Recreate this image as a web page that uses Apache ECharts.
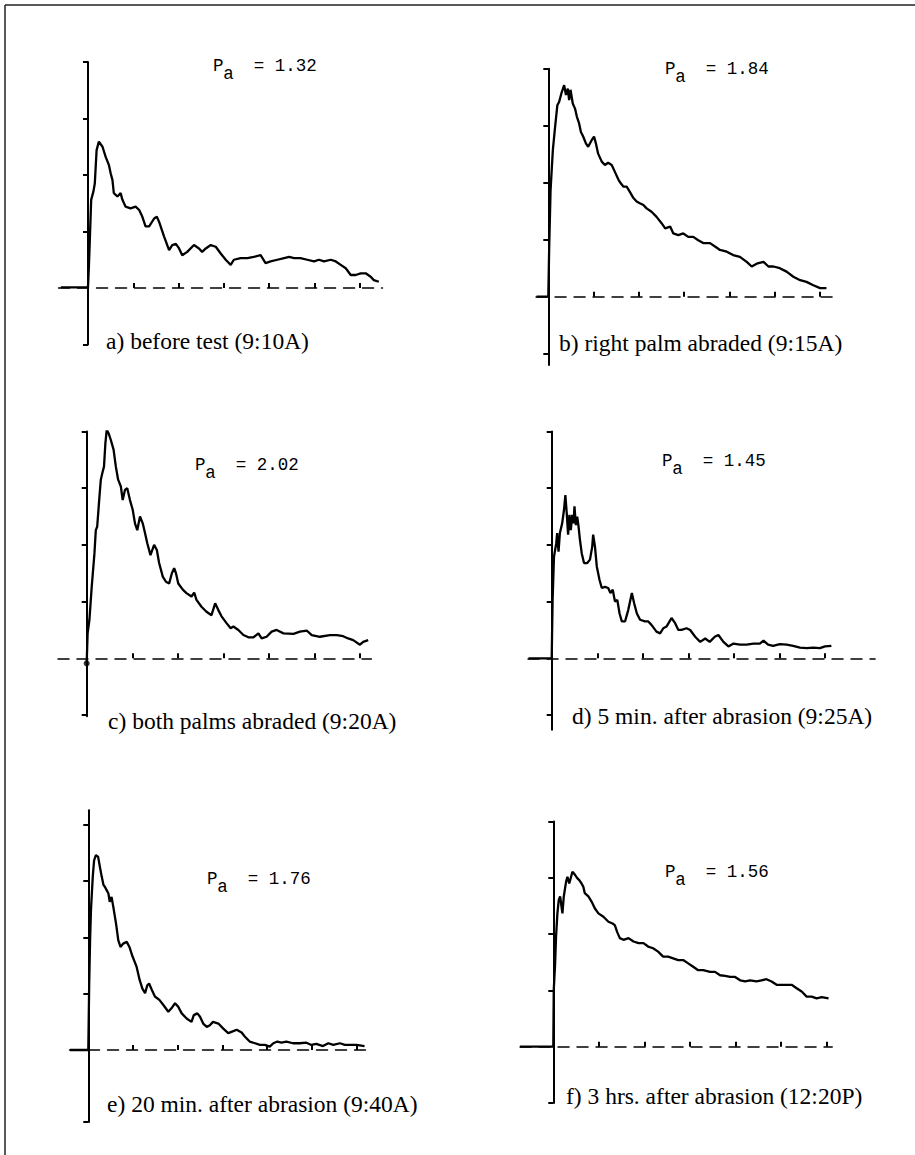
<!DOCTYPE html>
<html>
<head>
<meta charset="utf-8">
<title>Pa traces</title>
<script src="https://cdn.jsdelivr.net/npm/echarts@6/dist/echarts.min.js"></script>
<style>
  html, body { margin: 0; padding: 0; background: #fff; }
  #chart { width: 915px; height: 1155px; }
</style>
</head>
<body>
<div id="chart"></div>
<script>
// traces: x in tick units from the vertical axis, y in tick units above the dashed baseline
const traceA = [[-0.60,0.01],[-0.03,0.01],[0,0.02],[0.02,0.38],[0.04,0.85],[0.07,1.56],[0.12,1.71],[0.15,1.85],[0.19,2.44],[0.24,2.59],[0.32,2.50],[0.39,2.32],[0.46,2.18],[0.50,2.03],[0.54,1.91],[0.57,1.68],[0.65,1.62],[0.72,1.68],[0.76,1.56],[0.83,1.44],[0.94,1.41],[1.05,1.44],[1.13,1.38],[1.20,1.26],[1.27,1.09],[1.35,1.09],[1.46,1.23],[1.52,1.26],[1.57,1.17],[1.68,0.91],[1.79,0.67],[1.86,0.76],[1.94,0.78],[2.01,0.70],[2.08,0.58],[2.19,0.64],[2.34,0.76],[2.45,0.70],[2.52,0.64],[2.60,0.70],[2.71,0.76],[2.82,0.73],[2.93,0.61],[3.04,0.50],[3.15,0.41],[3.22,0.50],[3.37,0.53],[3.52,0.53],[3.66,0.55],[3.81,0.58],[3.92,0.44],[4.03,0.47],[4.18,0.50],[4.33,0.53],[4.44,0.55],[4.55,0.53],[4.69,0.53],[4.84,0.50],[4.99,0.47],[5.10,0.50],[5.21,0.47],[5.36,0.50],[5.47,0.47],[5.58,0.41],[5.69,0.35],[5.80,0.23],[5.91,0.23],[6.02,0.26],[6.13,0.26],[6.24,0.20],[6.31,0.14],[6.42,0.11]]
const traceB = [[-0.26,0],[0,0],[0.02,0.88],[0.05,1.87],[0.10,2.57],[0.15,2.98],[0.20,3.36],[0.24,3.42],[0.29,3.57],[0.35,3.71],[0.39,3.54],[0.43,3.65],[0.46,3.45],[0.49,3.63],[0.54,3.39],[0.59,3.30],[0.63,3.16],[0.68,3.04],[0.72,2.89],[0.77,2.81],[0.83,2.69],[0.88,2.63],[0.96,2.75],[1.01,2.81],[1.05,2.69],[1.10,2.51],[1.18,2.37],[1.25,2.31],[1.32,2.35],[1.40,2.31],[1.47,2.19],[1.55,2.05],[1.60,1.99],[1.66,1.93],[1.73,1.93],[1.80,1.84],[1.88,1.73],[1.95,1.67],[2.02,1.64],[2.10,1.61],[2.17,1.55],[2.28,1.49],[2.39,1.40],[2.50,1.29],[2.58,1.20],[2.69,1.23],[2.76,1.11],[2.87,1.08],[2.98,1.11],[3.09,1.05],[3.20,1.05],[3.31,0.99],[3.42,0.94],[3.57,0.94],[3.68,0.88],[3.79,0.82],[3.94,0.79],[4.08,0.73],[4.23,0.70],[4.38,0.61],[4.49,0.53],[4.60,0.58],[4.75,0.61],[4.86,0.53],[4.97,0.53],[5.11,0.50],[5.26,0.44],[5.41,0.35],[5.56,0.29],[5.70,0.26],[5.85,0.20],[6.00,0.15],[6.14,0.15]]
const traceC = [[0,-0.09],[0.02,0.44],[0.06,0.68],[0.11,1.26],[0.17,1.85],[0.20,2.26],[0.23,2.32],[0.28,2.85],[0.31,3.15],[0.35,3.29],[0.38,3.38],[0.41,3.79],[0.44,4.03],[0.48,3.97],[0.53,3.85],[0.59,3.68],[0.64,3.38],[0.69,3.15],[0.75,3.03],[0.79,2.79],[0.84,2.97],[0.89,3.00],[0.95,2.79],[1.01,2.62],[1.06,2.38],[1.11,2.26],[1.17,2.50],[1.23,2.38],[1.28,2.21],[1.33,2.03],[1.40,1.82],[1.48,2.00],[1.54,1.91],[1.59,1.68],[1.67,1.44],[1.74,1.35],[1.81,1.32],[1.87,1.50],[1.92,1.59],[1.96,1.50],[2.01,1.32],[2.11,1.21],[2.19,1.15],[2.30,1.09],[2.36,1.16],[2.41,1.03],[2.52,0.91],[2.63,0.82],[2.74,0.76],[2.82,0.97],[2.89,0.85],[2.96,0.74],[3.07,0.62],[3.16,0.53],[3.22,0.56],[3.33,0.50],[3.44,0.41],[3.55,0.37],[3.66,0.37],[3.77,0.44],[3.84,0.35],[3.95,0.38],[4.06,0.47],[4.17,0.50],[4.32,0.44],[4.54,0.43],[4.68,0.47],[4.83,0.49],[4.94,0.41],[5.12,0.38],[5.34,0.41],[5.49,0.41],[5.63,0.39],[5.74,0.35],[5.85,0.32],[6.00,0.24],[6.07,0.29],[6.18,0.32]]
const traceD = [[-0.51,0],[0,0],[0.02,1.03],[0.05,1.79],[0.10,2.03],[0.12,2.21],[0.15,1.88],[0.18,2.21],[0.23,2.38],[0.27,2.62],[0.30,2.88],[0.33,2.56],[0.36,2.18],[0.39,2.53],[0.42,2.26],[0.45,2.53],[0.48,2.38],[0.50,2.68],[0.53,2.35],[0.56,2.50],[0.59,2.32],[0.62,2.09],[0.66,1.85],[0.71,1.68],[0.78,1.68],[0.84,1.74],[0.89,1.97],[0.91,2.18],[0.95,1.97],[0.99,1.62],[1.05,1.38],[1.10,1.24],[1.17,1.26],[1.24,1.24],[1.29,1.15],[1.34,1.21],[1.39,1.00],[1.44,1.03],[1.49,0.79],[1.54,0.65],[1.61,0.65],[1.68,0.85],[1.76,1.15],[1.81,0.97],[1.87,0.79],[1.94,0.68],[2.05,0.65],[2.12,0.65],[2.19,0.59],[2.30,0.47],[2.38,0.44],[2.45,0.53],[2.52,0.56],[2.63,0.71],[2.71,0.62],[2.78,0.50],[2.85,0.50],[2.96,0.53],[3.04,0.50],[3.15,0.38],[3.26,0.29],[3.37,0.35],[3.47,0.29],[3.58,0.38],[3.66,0.41],[3.77,0.29],[3.88,0.21],[3.99,0.26],[4.13,0.24],[4.28,0.24],[4.43,0.26],[4.57,0.26],[4.65,0.31],[4.75,0.24],[4.86,0.22],[5.01,0.25],[5.16,0.24],[5.30,0.22],[5.45,0.19],[5.60,0.18],[5.74,0.19],[5.89,0.18],[6.00,0.21],[6.14,0.22]]
const traceE = [[-0.41,0],[0,0],[0.02,1.18],[0.04,1.95],[0.06,2.49],[0.10,3.08],[0.13,3.37],[0.17,3.46],[0.22,3.43],[0.26,3.25],[0.30,3.08],[0.34,2.93],[0.37,2.90],[0.41,2.84],[0.45,2.78],[0.48,2.63],[0.52,2.72],[0.56,2.54],[0.62,2.25],[0.67,1.95],[0.72,1.83],[0.78,1.89],[0.86,1.92],[0.92,1.83],[0.99,1.66],[1.08,1.48],[1.15,1.24],[1.21,1.09],[1.27,1.01],[1.32,1.15],[1.36,1.18],[1.42,1.07],[1.49,0.95],[1.59,0.89],[1.68,0.80],[1.79,0.68],[1.86,0.74],[1.94,0.83],[2.01,0.77],[2.09,0.65],[2.20,0.56],[2.31,0.50],[2.36,0.62],[2.44,0.65],[2.50,0.59],[2.57,0.47],[2.65,0.41],[2.72,0.44],[2.79,0.50],[2.91,0.47],[3.02,0.38],[3.13,0.30],[3.23,0.33],[3.32,0.36],[3.43,0.31],[3.50,0.24],[3.61,0.15],[3.73,0.12],[3.84,0.09],[3.95,0.09],[4.06,0.06],[4.14,0.12],[4.23,0.15],[4.32,0.13],[4.43,0.15],[4.58,0.12],[4.73,0.12],[4.88,0.13],[4.99,0.09],[5.10,0.11],[5.25,0.07],[5.37,0.12],[5.48,0.09],[5.63,0.12],[5.74,0.09],[5.85,0.09],[6.00,0.09],[6.18,0.07]]
const traceF = [[-0.73,0],[0,0],[0.01,1.01],[0.04,1.48],[0.06,1.95],[0.09,2.37],[0.12,2.61],[0.15,2.67],[0.18,2.49],[0.20,2.37],[0.23,2.67],[0.28,2.93],[0.31,3.02],[0.35,2.90],[0.38,2.99],[0.42,3.11],[0.48,3.05],[0.53,2.99],[0.57,2.96],[0.62,2.90],[0.66,2.84],[0.69,2.73],[0.77,2.67],[0.84,2.58],[0.91,2.46],[0.99,2.37],[1.10,2.31],[1.21,2.22],[1.30,2.19],[1.35,2.16],[1.40,2.04],[1.46,1.93],[1.54,1.90],[1.65,1.93],[1.76,1.87],[1.87,1.84],[1.98,1.84],[2.08,1.78],[2.19,1.75],[2.30,1.69],[2.41,1.60],[2.52,1.60],[2.63,1.57],[2.74,1.54],[2.85,1.54],[2.96,1.48],[3.07,1.42],[3.18,1.36],[3.29,1.36],[3.44,1.33],[3.55,1.33],[3.66,1.27],[3.77,1.26],[3.88,1.24],[3.99,1.24],[4.10,1.18],[4.21,1.16],[4.32,1.18],[4.46,1.16],[4.57,1.18],[4.68,1.20],[4.79,1.16],[4.90,1.10],[5.01,1.10],[5.12,1.10],[5.23,1.10],[5.34,1.04],[5.45,0.98],[5.56,0.89],[5.67,0.89],[5.78,0.86],[5.89,0.88],[6.04,0.86]]

const captions = [
  'a) before test (9:10A)',
  'b) right palm abraded (9:15A)',
  'c) both palms abraded (9:20A)',
  'd) 5 min. after abrasion (9:25A)',
  'e) 20 min. after abrasion (9:40A)',
  'f) 3 hrs. after abrasion (12:20P)',
]
const paValues = ['1.32', '1.84', '2.02', '1.45', '1.76', '1.56']
const xTicks = [1, 2, 3, 4, 5, 6]
const yTicks = [-1, 1, 2, 3, 4]

const traces = [traceA, traceB, traceC, traceD, traceE, traceF]

// where each panel sits on the page (origin = axis crossing, px per tick unit)
const panels = [
  { ox: 88, oy: 288, ux: 45.3, uy: 56.5, xMin: -0.65, xMax: 6.5, yMin: -1, yMax: 4, cap: [106, 341], pa: [213, 66] },
  { ox: 548.3, oy: 296.7, ux: 45.3, uy: 57, xMin: -0.27, xMax: 6.4, yMin: -1.2, yMax: 4, cap: [559, 343], pa: [665, 69] },
  { ox: 86.7, oy: 658.3, ux: 45.55, uy: 56.7, xMin: -0.63, xMax: 6.25, yMin: -1.02, yMax: 4, cap: [108, 721], pa: [195, 465] },
  { ox: 551.7, oy: 658.3, ux: 45.55, uy: 56.7, xMin: -0.52, xMax: 7.1, yMin: -1.26, yMax: 4, cap: [572, 716], pa: [662, 461] },
  { ox: 88.3, oy: 1050, ux: 44.7, uy: 56.3, xMin: -0.42, xMax: 6.2, yMin: -1.28, yMax: 4.26, cap: [107, 1104], pa: [207, 879] },
  { ox: 553.3, oy: 1046.7, ux: 45.57, uy: 56.27, xMin: -0.73, xMax: 6.12, yMin: -1, yMax: 4, cap: [566, 1096], pa: [665, 872] },
]

const ink = '#000'
const grids = []
const xAxes = []
const yAxes = []
const series = []
const graphics = [
  { type: 'line', shape: { x1: 5, y1: 5, x2: 915, y2: 5 }, style: { stroke: '#222', lineWidth: 1.5 } },
  { type: 'line', shape: { x1: 5, y1: 5, x2: 5, y2: 1155 }, style: { stroke: '#222', lineWidth: 1.5 } },
]

panels.forEach((p, i) => {
  grids.push({
    left: p.ox + p.xMin * p.ux,
    top: p.oy - p.yMax * p.uy,
    width: (p.xMax - p.xMin) * p.ux,
    height: (p.yMax - p.yMin) * p.uy,
    containLabel: false,
    outerBoundsMode: 'none',
  })
  xAxes.push({
    type: 'value',
    gridIndex: i,
    min: p.xMin,
    max: p.xMax,
    axisLine: { onZero: true, lineStyle: { color: ink, width: 1.5, type: [11, 8] } },
    axisTick: { show: true, inside: true, length: 5, customValues: xTicks, lineStyle: { color: ink, width: 2 } },
    axisLabel: { show: false },
    splitLine: { show: false },
  })
  yAxes.push({
    type: 'value',
    gridIndex: i,
    min: p.yMin,
    max: p.yMax,
    axisLine: { onZero: true, lineStyle: { color: ink, width: 2 } },
    axisTick: { show: true, inside: false, length: 5, customValues: i === 4 ? [p.yMin, 1, 2, 3, 4] : yTicks, lineStyle: { color: ink, width: 2 } },
    axisLabel: { show: false },
    splitLine: { show: false },
  })
  series.push({
    type: 'line',
    xAxisIndex: i,
    yAxisIndex: i,
    data: traces[i],
    showSymbol: false,
    smooth: false,
    lineStyle: { color: ink, width: 2.3 },
    z: 3,
  })

  graphics.push({
    type: 'text',
    style: { x: p.cap[0], y: p.cap[1], text: captions[i], fill: ink, font: '23.5px "Liberation Serif"', align: 'left', verticalAlign: 'middle' },
  })
  const mono = '17.5px "Liberation Mono"'
  graphics.push({
    type: 'text',
    style: { x: p.pa[0], y: p.pa[1], text: 'P', fill: ink, font: mono, align: 'left', verticalAlign: 'middle' },
  })
  graphics.push({
    type: 'text',
    style: { x: p.pa[0] + 10.2, y: p.pa[1] + 8, text: 'a', fill: ink, font: mono, align: 'left', verticalAlign: 'middle' },
  })
  graphics.push({
    type: 'text',
    style: { x: p.pa[0] + 40.8, y: p.pa[1], text: '= ' + paValues[i], fill: ink, font: mono, align: 'left', verticalAlign: 'middle' },
  })
})

// start dot of trace c
series.push({
  type: 'scatter',
  xAxisIndex: 2,
  yAxisIndex: 2,
  data: [traceC[0]],
  symbolSize: 6,
  itemStyle: { color: ink },
  z: 4,
})

const myChart = echarts.init(document.getElementById('chart'), null, { renderer: 'svg' })
myChart.setOption({
  animation: false,
  backgroundColor: '#fff',
  grid: grids,
  xAxis: xAxes,
  yAxis: yAxes,
  series: series,
  graphic: graphics,
})
</script>
</body>
</html>
